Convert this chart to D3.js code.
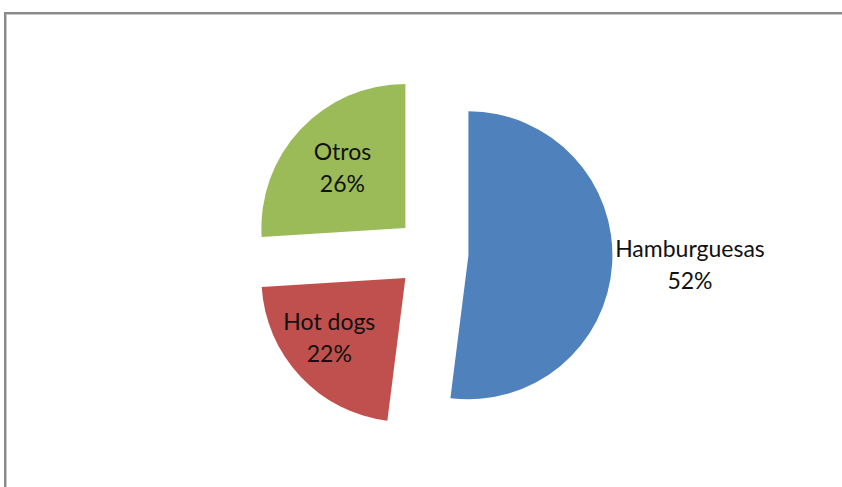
<!DOCTYPE html>
<html>
<head>
<meta charset="utf-8">
<script src="https://cdn.jsdelivr.net/npm/d3@7"></script>
<style>
  body { margin: 0; background: #fff; }
  text { font-family: Lato, "Open Sans", sans-serif; }
</style>
</head>
<body>
<div id="chart"></div>
<script>
// data
var categories = ['Hamburguesas', 'Hot dogs', 'Otros'];
var percents = [52, 22, 26];
var colors = ['#4F81BD', '#C0504D', '#9BBB59'];

// layout
var width = 842, height = 487,
    cx = 432, cy = 253,
    radius = 144,
    explode = 36.5,
    labelRadius = [1.54, 0.675, 0.604],   // fraction of radius
    labelTurn = [-1.1, 4.7, 0.4];          // degrees off the slice middle

var svg = d3.select('#chart').append('svg')
    .attr('width', width)
    .attr('height', height);

// chart frame (right/bottom edges run off the picture)
svg.append('rect')
    .attr('x', 5).attr('y', 13)
    .attr('width', width + 10).attr('height', height + 10)
    .attr('fill', 'none')
    .attr('stroke', '#8a8a8a')
    .attr('stroke-width', 2);
svg.append('rect')
    .attr('x', 6.5).attr('y', 14.5)
    .attr('width', width + 10).attr('height', height + 10)
    .attr('fill', 'none')
    .attr('stroke', '#c8c8c8')
    .attr('stroke-width', 1);

var pie = d3.pie().sort(null).value(function (d) { return d; });
var arcs = pie(percents);
var arc = d3.arc().innerRadius(0).outerRadius(radius);

function offset(d, k, turn) {
    var a = (d.startAngle + d.endAngle) / 2 + (turn || 0) * Math.PI / 180;
    return [Math.sin(a) * k, -Math.cos(a) * k];
}

var g = svg.append('g').attr('transform', 'translate(' + cx + ',' + cy + ')');

var slices = g.selectAll('g.slice')
    .data(arcs)
    .enter().append('g')
    .attr('class', 'slice')
    .attr('transform', function (d) {
        var o = offset(d, explode);
        return 'translate(' + o[0] + ',' + o[1] + ')';
    });

slices.append('path')
    .attr('d', arc)
    .attr('fill', function (d, i) { return colors[i]; });

var labels = slices.append('text')
    .attr('text-anchor', 'middle')
    .attr('fill', '#111')
    .style('font-size', '23px')
    .attr('transform', function (d, i) {
        var o = offset(d, radius * labelRadius[i], labelTurn[i]);
        return 'translate(' + o[0] + ',' + o[1] + ')';
    });

labels.append('tspan')
    .attr('x', 0).attr('dy', '-0.35em')
    .text(function (d, i) { return categories[i]; });
labels.append('tspan')
    .attr('x', 0).attr('dy', '1.39em')
    .text(function (d) { return d.value + '%'; });
</script>
</body>
</html>
